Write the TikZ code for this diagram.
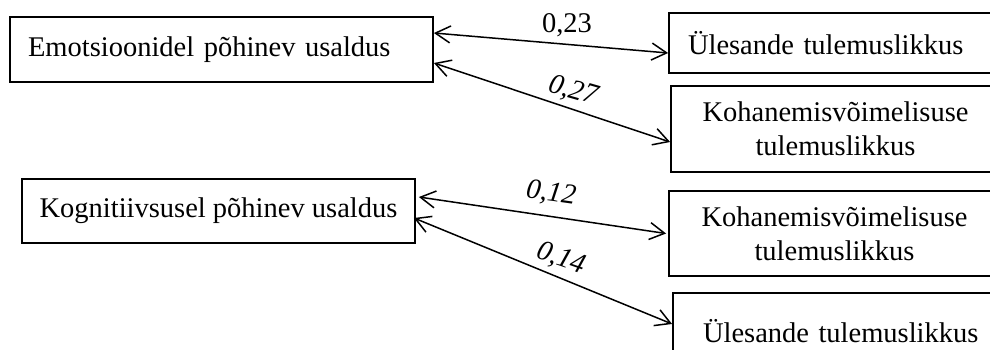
\documentclass[tikz,border=0pt]{standalone}
\usepackage{fontspec}
\setmainfont{Liberation Serif}
\usetikzlibrary{arrows.meta}
\tikzset{
  box/.style={draw, line width=1.8pt, rectangle, inner ysep=0pt,
    font=\fontsize{28.5}{34}\selectfont},
  link/.style={line width=1.5pt, {Straight Barb[length=15pt,width=17pt]}-{Straight Barb[length=15pt,width=17pt]}},
  coef/.style={inner sep=0pt, font=\fontsize{28.5}{34}\selectfont},
}
\begin{document}
\begin{tikzpicture}[x=1pt, y=-1pt]
\useasboundingbox (0,0) rectangle (990,349);
% left-hand factors
\node[box, minimum width=423pt, minimum height=65pt, inner xsep=18pt,
      text width=387pt, align=left] (E) at (221.5,49.5) {Emotsioonidel põhinev usaldus};
\node[box, minimum width=393pt, minimum height=64pt, inner xsep=0pt,
      align=center] (K) at (218.5,211) {Kognitiivsusel põhinev usaldus};
% right-hand outcomes
\node[box, minimum width=351pt, minimum height=60pt, inner xsep=19pt,
      text width=313pt, align=left] (U1) at (844.5,43) {Ülesande tulemuslikkus};
\node[box, minimum width=329pt, minimum height=86pt, inner xsep=0pt,
      align=center] (A1) at (835.5,129) {Kohanemisvõimelisuse\\tulemuslikkus};
\node[box, minimum width=331pt, minimum height=85pt, inner xsep=0pt,
      align=center] (A2) at (834.5,233.5) {Kohanemisvõimelisuse\\tulemuslikkus};
\node[box, minimum width=347pt, minimum height=77pt, inner xsep=30pt,
      text width=287pt, align=left] (U2) at (846.5,331.5) {Ülesande tulemuslikkus};
% correlations
\draw[link] ([yshift=16.5pt]E.east) -- ([yshift=-10pt]U1.west);
\draw[link] ([yshift=-13.5pt]E.east) -- ([yshift=-13pt]A1.west);
\draw[link] ([xshift=3pt,yshift=14pt]K.east) -- ([xshift=-2pt]A2.west);
\draw[link] ([xshift=-2pt,yshift=-7pt]K.east) -- ([yshift=7.5pt]U2.west);
% coefficients
\node[coef] (c1) at (567,25) {0,23};
\node[coef, rotate=-16] (c2) at (573,91) {\itshape 0,27};
\node[coef, rotate=-8] (c3) at (551,194) {\itshape 0,12};
\node[coef, rotate=-19] (c4) at (561,259) {\itshape 0,14};
\end{tikzpicture}
\end{document}
